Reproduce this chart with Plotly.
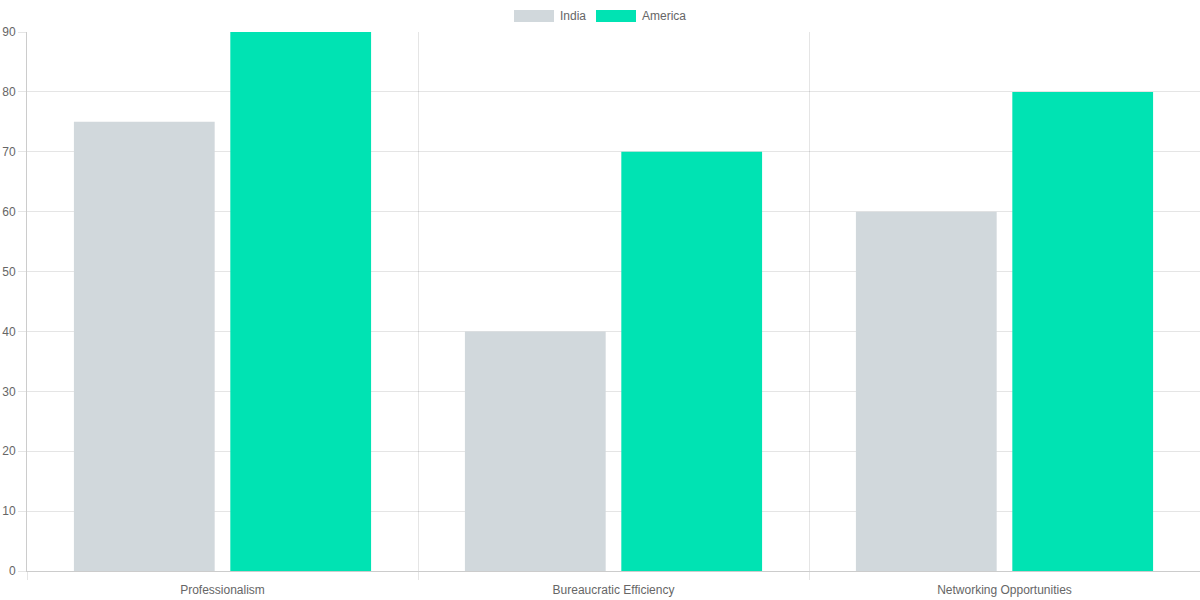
import plotly.graph_objects as go

categories = ["Professionalism", "Bureaucratic Efficiency", "Networking Opportunities"]
series_names = ["India", "America"]
india = [75, 40, 60]
america = [90, 70, 80]
colors = ["rgb(209,216,220)", "rgb(0,227,179)"]
y_ticks = list(range(0, 91, 10))

W, H = 1200, 600
# plot area in window pixels
PL, PR, PT, PB = 27, 1200, 32, 571
ML, MR, MT, MB = PL, W - PR, PT, H - PB
PW, PH = W - ML - MR, H - MT - MB

def px_x(p):  # window pixel -> paper x
    return (p - PL) / PW

def px_y(p):  # window pixel -> paper y
    return (PB - p) / PH

font = dict(family="Helvetica Neue, Helvetica, Arial, Liberation Sans, sans-serif", size=12, color="#666666")
grid = "rgba(0,0,0,0.1)"

fig = go.Figure()
for name, vals, col in zip(series_names, [india, america], colors):
    fig.add_trace(go.Bar(x=categories, y=vals, name=name, marker=dict(color=col, line=dict(width=0)),
                         showlegend=False))

# custom legend (Chart.js style wide boxes)
shapes = []
annotations = []
legend_items = [(514, 558), (596, 640)]
for (bx, tx), name, col in zip(legend_items, series_names, colors):
    shapes.append(dict(type="rect", xref="paper", yref="paper",
                       x0=px_x(bx), x1=px_x(bx + 40), y0=px_y(22), y1=px_y(10),
                       fillcolor=col, line=dict(width=0), layer="above"))
    annotations.append(dict(xref="paper", yref="paper", x=px_x(tx), y=px_y(16),
                            xanchor="left", yanchor="middle", text=name, showarrow=False,
                            font=font))

fig.update_layout(
    width=W, height=H,
    margin=dict(l=ML, r=MR, t=MT, b=MB),
    paper_bgcolor="white", plot_bgcolor="white",
    barmode="group", bargap=0.2, bargroupgap=0.1,
    font=font,
    shapes=shapes, annotations=annotations,
    xaxis=dict(type="category", range=[-0.5, 2.5], tickson="boundaries", automargin=False,
               ticks="outside", ticklen=8, tickcolor=grid, showgrid=True, gridcolor=grid,
               gridwidth=1, showline=True, linecolor="rgba(0,0,0,0.2)", linewidth=1,
               ticklabelstandoff=8, tickfont=font, fixedrange=True),
    yaxis=dict(range=[0, 90], tickvals=y_ticks, ticks="outside", ticklen=8, tickcolor=grid,
               automargin=False,
               showgrid=True, gridcolor=grid, gridwidth=1, zeroline=False,
               showline=True, linecolor="rgba(0,0,0,0.2)", linewidth=1, tickfont=font),
)

fig.write_html("out.html", config={"displayModeBar": False},
               post_script="document.body.style.margin='0';document.body.style.overflow='hidden';")
